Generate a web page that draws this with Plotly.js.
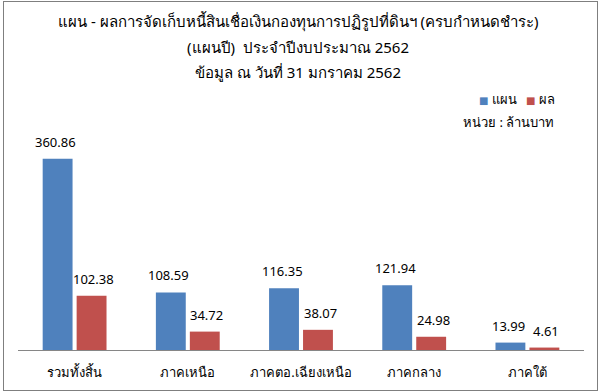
<!DOCTYPE html>
<html>
<head>
<meta charset="utf-8">
<script src="https://cdn.plot.ly/plotly-3.0.1.min.js"></script>
<style>
  html, body { margin: 0; padding: 0; background: #fff; }
  #wrap { position: relative; width: 602px; height: 392px; }
  #chart { position: absolute; left: 0; top: 0; width: 602px; height: 392px; }
  #frame { position: absolute; left: 3px; top: 1px; width: 593px; height: 388px; border: 1px solid #7f7f7f; pointer-events: none; }
</style>
</head>
<body>
<div id="wrap">
  <div id="chart"></div>
  <div id="frame"></div>
</div>
<script>
const categories = ["รวมทั้งสิ้น", "ภาคเหนือ", "ภาคตอ.เฉียงเหนือ", "ภาคกลาง", "ภาคใต้"];
const planValues = [360.86, 108.59, 116.35, 121.94, 13.99];
const actualValues = [102.38, 34.72, 38.07, 24.98, 4.61];
const seriesNames = ["แผน", "ผล"];
const titleLines = [
  "แผน - ผลการจัดเก็บหนี้สินเชื่อเงินกองทุนการปฏิรูปที่ดินฯ (ครบกำหนดชำระ)",
  "(แผนปี)  ประจำปีงบประมาณ 2562",
  "ข้อมูล ณ วันที่ 31 มกราคม 2562"
];
const unitText = "หน่วย : ล้านบาท";

const FONT = "Tahoma, 'Noto Sans', 'DejaVu Sans', sans-serif";
const blue = "#4F81BD";
const red = "#C0504D";
const colors = [blue, red];

const traces = [
  { type: "bar", name: seriesNames[0], x: categories, y: planValues, marker: { color: blue }, hoverinfo: "none" },
  { type: "bar", name: seriesNames[1], x: categories, y: actualValues, marker: { color: red }, hoverinfo: "none" }
];

const annotations = [];
// value labels
[planValues, actualValues].forEach((vals, s) => {
  vals.forEach((v, i) => {
    annotations.push({
      x: categories[i], y: v, xref: "x", yref: "y",
      text: v.toFixed(2), showarrow: false,
      xanchor: "center", yanchor: "bottom",
      xshift: s === 0 ? -19 : 19, yshift: 6,
      font: { family: FONT, size: 13, color: "#000" }
    });
  });
});
// title lines
const titleY = [22, 47, 72];
titleLines.forEach((t, k) => {
  annotations.push({
    xref: "paper", yref: "paper", x: (298 - 18) / 566, y: 1 + (138 - titleY[k]) / 212,
    xanchor: "center", yanchor: "middle", showarrow: false,
    text: t, font: { family: FONT, size: 15, color: "#000" }
  });
});
// legend entries (drawn as text)
const legendRight = [519, 557];
seriesNames.forEach((n, s) => {
  annotations.push({
    xref: "paper", yref: "paper", x: (legendRight[s] - 18) / 566, y: 1 + (138 - 99) / 212,
    xanchor: "right", yanchor: "middle", showarrow: false,
    text: "<span style='color:" + colors[s] + ";font-size:10px'>■</span> " + n,
    font: { family: FONT, size: 13, color: "#000" }
  });
});
annotations.push({
  xref: "paper", yref: "paper", x: (556 - 18) / 566, y: 1 + (138 - 122) / 212,
  xanchor: "right", yanchor: "middle", showarrow: false,
  text: unitText, font: { family: FONT, size: 13, color: "#000" }
});

const layout = {
  width: 602, height: 392,
  margin: { l: 18, r: 18, t: 138, b: 42 },
  paper_bgcolor: "#fff", plot_bgcolor: "#fff",
  barmode: "group", bargap: 0.4, bargroupgap: 0.12,
  xaxis: {
    type: "category", showline: true, linecolor: "#868686", linewidth: 1,
    ticks: "", showgrid: false, zeroline: false,
    tickfont: { family: FONT, size: 13, color: "#000" }, ticklabelstandoff: 10
  },
  yaxis: { range: [0, 400], visible: false, showgrid: false, zeroline: false },
  showlegend: false,
  annotations: annotations
};

Plotly.newPlot("chart", traces, layout, { staticPlot: true, displayModeBar: false });
</script>
</body>
</html>
